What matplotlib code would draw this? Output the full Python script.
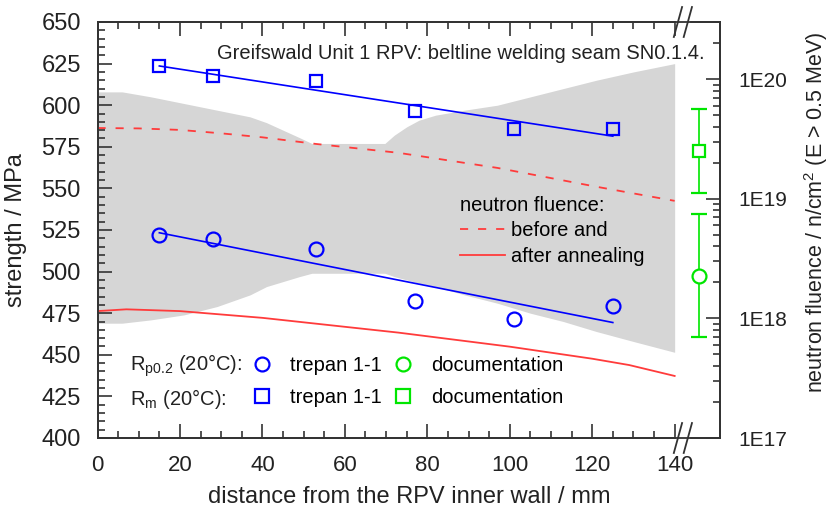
import numpy as np
import matplotlib
matplotlib.use("Agg")
import matplotlib.pyplot as plt
from matplotlib.lines import Line2D
from matplotlib.transforms import blended_transform_factory
from matplotlib.ticker import (FixedLocator, MultipleLocator, LogLocator,
                               FuncFormatter, NullFormatter)

plt.rcParams["font.family"] = ["Liberation Sans", "DejaVu Sans"]
plt.rcParams["mathtext.fontset"] = "custom"
plt.rcParams["mathtext.rm"] = "Liberation Sans"
plt.rcParams["mathtext.it"] = "Liberation Sans:italic"

# trepan 1-1 test positions (mm) and strengths (MPa)
pos_trepan = [15, 28, 53, 77, 101, 125]
rm_trepan = [623.5, 617.5, 614.5, 596.5, 585.5, 585.5]
rp_trepan = [522.0, 519.5, 513.5, 482.5, 471.5, 479.5]

# documentation values, shown behind the axis break
pos_doc = 146
rm_doc, rm_doc_err = 572.5, 25
rp_doc, rp_doc_err = 497.5, 37

# grey scatter band of strength
band_x = [0, 6, 13, 21, 29, 37, 41, 45, 49, 52, 60, 69.7, 72, 75, 78, 82, 89, 97, 105, 113, 121, 130, 140]
band_lo = [469, 469, 471, 474, 479, 486, 491, 494, 497, 499, 499, 499, 497, 495, 493, 491, 486, 481, 475, 470, 464, 458, 451.5]
band_hi = [608, 608, 605, 601, 597, 593, 589.5, 585, 580.5, 577, 577, 577, 582, 587, 591, 594, 597, 600, 605, 610, 615, 620, 625]

# neutron fluence (n/cm^2, E > 0.5 MeV)
flu_before_x = [0, 10, 20, 30, 40, 53, 73, 97, 121, 140]
flu_before = [3.9e19, 3.87e19, 3.76e19, 3.52e19, 3.26e19, 2.87e19, 2.42e19, 1.81e19, 1.26e19, 9.6e18]
flu_after_x = [0, 7, 20, 40, 60, 73, 100, 120, 129, 140]
flu_after = [1.15e18, 1.19e18, 1.15e18, 1.01e18, 8.5e17, 7.6e17, 5.8e17, 4.6e17, 4.07e17, 3.3e17]

BLUE = "#0000ff"
GREEN = "#00e600"
RED = "#ff3b3b"
GREY = "#d6d6d6"
INK = "#333333"
FS = 14.5

fig = plt.figure(figsize=(8.3, 5.14), dpi=100)
ax = fig.add_axes([97.5 / 830, 76 / 514, 622.5 / 830, 416 / 514])

ax.fill_between(band_x, band_lo, band_hi, color=GREY, lw=0, zorder=1)

# linear fits through the trepan data
xs = np.array([min(pos_trepan), max(pos_trepan)])
for vals in (rm_trepan, rp_trepan):
    k, d = np.polyfit(pos_trepan, vals, 1)
    ax.plot(xs, k * xs + d, color=BLUE, lw=1.2, zorder=3)

ax.plot(pos_trepan, rm_trepan, ls="none", marker="s", ms=9, mew=1.6,
        mec=BLUE, mfc="none", zorder=4)
ax.plot(pos_trepan, rp_trepan, ls="none", marker="o", ms=10, mew=1.6,
        mec=BLUE, mfc="none", zorder=4)

ax.errorbar(pos_doc, rm_doc, yerr=rm_doc_err, fmt="s", ms=9, mew=1.6,
            mec=GREEN, mfc="white", ecolor=GREEN, elinewidth=1.2,
            capsize=6, capthick=1.2, zorder=4)
ax.errorbar(pos_doc, rp_doc, yerr=rp_doc_err, fmt="o", ms=10, mew=1.6,
            mec=GREEN, mfc="white", ecolor=GREEN, elinewidth=1.2,
            capsize=6, capthick=1.2, zorder=4)

ax.set_xlim(0, 151)
ax.set_ylim(400, 650)
ax.xaxis.set_major_locator(FixedLocator(np.arange(0, 141, 20)))
ax.xaxis.set_minor_locator(FixedLocator(np.arange(0, 141, 5)))
ax.yaxis.set_major_locator(MultipleLocator(25))
ax.yaxis.set_minor_locator(MultipleLocator(5))
ax.tick_params(which="both", direction="in", top=True, right=False,
               width=1.2, color=INK, labelcolor="#222222")
ax.tick_params(which="major", length=10)
ax.tick_params(which="minor", length=5)
ax.tick_params(axis="x", pad=12, labelsize=16)
ax.tick_params(axis="y", pad=12, labelsize=17)
for s in ax.spines.values():
    s.set_linewidth(1.3)
    s.set_color(INK)

ax.set_xlabel("distance from the RPV inner wall / mm", fontsize=17,
              color="#222222")
ax.xaxis.set_label_coords(0.5, -0.115)
ax.set_ylabel("strength / MPa", fontsize=17, color="#222222")
ax.yaxis.set_label_coords(-0.113, 0.5)

# right axis: neutron fluence
ax2 = ax.twinx()
ax2.set_yscale("log")
ax2.set_ylim(1e17, 3e20)
ax2.plot(flu_before_x, flu_before, color=RED, lw=1.3, dashes=(4.5, 5.5),
         label="before and")
ax2.plot(flu_after_x, flu_after, color=RED, lw=1.3, label="after annealing")
ax2.yaxis.set_major_locator(LogLocator(base=10))
ax2.yaxis.set_minor_locator(LogLocator(base=10, subs=np.arange(2, 10)))
ax2.yaxis.set_minor_formatter(NullFormatter())
ax2.yaxis.set_major_formatter(
    FuncFormatter(lambda v, p: "1E%d" % int(round(np.log10(v)))))
ax2.tick_params(which="both", direction="in", width=1.2, labelsize=15,
                color=INK, labelcolor="#222222", pad=13)
ax2.tick_params(which="major", length=10)
ax2.tick_params(which="minor", length=5)
for s in ax2.spines.values():
    s.set_linewidth(1.3)
    s.set_color(INK)
fig.text(816 / 830, 1 - 212 / 514,
         "neutron fluence / n/cm$^2$ (E > 0.5 MeV)", color="#222222",
         rotation=90, ha="center", va="center", fontsize=15.5)

ax2.legend(loc="upper left", bbox_to_anchor=(460 / 830, 1 - 196 / 514),
           bbox_transform=fig.transFigure, frameon=False,
           title="neutron fluence:", title_fontsize=FS, fontsize=FS,
           alignment="left", borderpad=0, borderaxespad=0,
           handlelength=2.25, handletextpad=0.3, labelspacing=0.32)

# axis break on the x axis
tb = blended_transform_factory(ax.transData, ax.transAxes)
for yb in (0, 1):
    ax.plot([140.8, 143.2], [yb, yb], color="white", lw=3, transform=tb,
            clip_on=False, zorder=6)
    for xc in (140.8, 143.2):
        ax.plot([xc - 1.0, xc + 1.0], [yb - 0.036, yb + 0.036], color=INK,
                lw=1.3, transform=tb, clip_on=False, zorder=7)

ax.text(0.976, 0.925, "Greifswald Unit 1 RPV: beltline welding seam SN0.1.4.",
        transform=ax.transAxes, ha="right", va="center", fontsize=FS,
        color="#222222")

# marker legend with row labels
mk = dict(ls="none", ms=10, mew=1.6, mfc="none")
handles = [Line2D([], [], marker="o", mec=BLUE, **mk),
           Line2D([], [], marker="s", mec=BLUE, **mk),
           Line2D([], [], marker="o", mec=GREEN, **mk),
           Line2D([], [], marker="s", mec=GREEN, **mk)]
labels = ["trepan 1-1", "trepan 1-1", "documentation", "documentation"]
ax.legend(handles, labels, ncol=2, loc="center left",
          bbox_to_anchor=(252 / 830, 1 - 381.5 / 514),
          bbox_transform=fig.transFigure, frameon=False, fontsize=FS,
          borderpad=0, borderaxespad=0, handlelength=1.0,
          handletextpad=0.9, columnspacing=0.55, labelspacing=0.67)
fig.text(130 / 830, 1 - 366 / 514, r"R$_{\rm p0.2}$ (20°C):", fontsize=FS,
         va="center", color="#222222")
fig.text(130 / 830, 1 - 399 / 514, r"R$_{\rm m}$ (20°C):", fontsize=FS,
         va="center", color="#222222")

fig.savefig("out.png", dpi=100)
